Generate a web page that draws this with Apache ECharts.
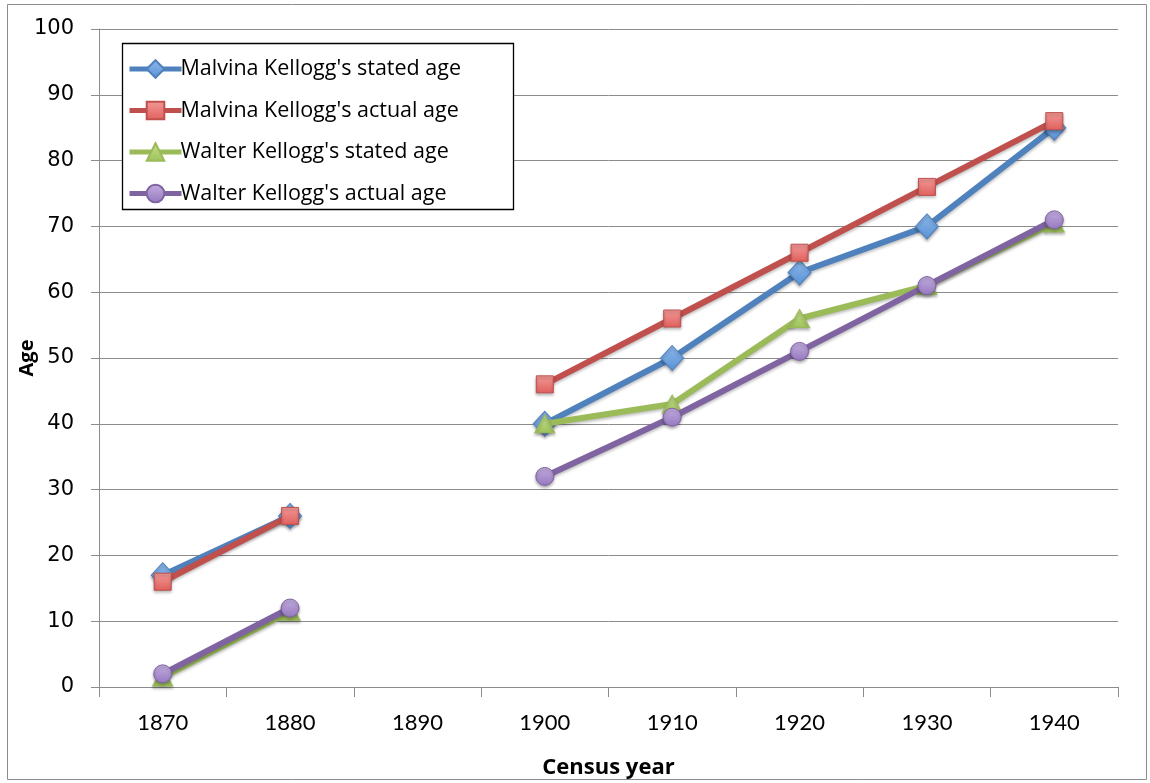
<!DOCTYPE html>
<html>
<head>
<meta charset="utf-8">
<script src="https://cdn.jsdelivr.net/npm/echarts@6/dist/echarts.min.js"></script>
<style>html,body{margin:0;padding:0;background:#fff}#c{width:1150px;height:783px}</style>
</head>
<body>
<div id="c"></div>
<script>
const years = ['1870','1880','1890','1900','1910','1920','1930','1940'];
const malvinaStated = [17, 26, null, 40, 50, 63, 70, 85];
const malvinaActual = [16, 26, null, 46, 56, 66, 76, 86];
const walterStated  = [1.5, 11.5, null, 40, 43, 56, 61, 70.5];
const walterActual  = [2, 12, null, 32, 41, 51, 61, 71];
const seriesNames = ["Malvina Kellogg's stated age", "Malvina Kellogg's actual age", "Walter Kellogg's stated age", "Walter Kellogg's actual age"];
const yTicks = { min: 0, max: 100, interval: 10 };

function grad(top, bottom) {
  return new echarts.graphic.LinearGradient(0, 0, 0, 1, [{offset: 0, color: top}, {offset: 1, color: bottom}]);
}
const defs = [
  { data: malvinaStated, line: '#4F81BD', sym: 'diamond', size: [23, 25], fill: grad('#8cb8ea', '#5a92d6'), border: '#4F81BD' },
  { data: malvinaActual, line: '#C0504D', sym: 'rect', size: 17, fill: grad('#f29a98', '#e0605d'), border: '#C0504D' },
  { data: walterStated, line: '#9BBB59', sym: 'triangle', size: [20, 18], fill: grad('#c4de8c', '#9fc35c'), border: '#9BBB59' },
  { data: walterActual, line: '#8064A2', sym: 'circle', size: 18, fill: grad('#c4aee0', '#9478bf'), border: '#8064A2' }
];

const chart = echarts.init(document.getElementById('c'), null, { renderer: 'canvas' });
chart.setOption({
  animation: false,
  backgroundColor: '#fff',
  grid: { left: 99, right: 32, top: 29, bottom: 96, containLabel: false, outerBoundsMode: 'none' },
  graphic: [
    { type: 'rect', z: 0, shape: { x: 7.5, y: 4.5, width: 1139, height: 775 }, style: { fill: 'none', stroke: '#8c8c8c', lineWidth: 1 } },
    { type: 'rect', z: 10, shape: { x: 122.5, y: 43.5, width: 391, height: 166 }, style: { fill: '#fff', stroke: '#000', lineWidth: 1.3 } }
  ],
  legend: {
    z: 11,
    orient: 'vertical',
    left: 127, top: 58,
    padding: 0,
    itemWidth: 52, itemHeight: 22,
    itemGap: 19.5,
    lineStyle: { width: 5 },
    textStyle: { fontFamily: 'Open Sans', fontSize: 21.5, lineHeight: 22, color: '#000', padding: [0, 0, 0, -6] },
    data: seriesNames
  },
  xAxis: {
    type: 'category',
    data: years,
    boundaryGap: true,
    axisLine: { lineStyle: { color: '#8c8c8c', width: 1 } },
    axisTick: { show: true, length: 10, alignWithLabel: false, lineStyle: { color: '#8c8c8c' } },
    axisLabel: { fontFamily: 'Lato', fontSize: 22, color: '#000', margin: 25 },
    name: 'Census year',
    nameLocation: 'middle',
    nameGap: 70,
    nameMoveOverlap: false,
    nameTextStyle: { fontFamily: 'Open Sans', fontSize: 22, fontWeight: 'bold', color: '#000' }
  },
  yAxis: {
    type: 'value',
    min: yTicks.min, max: yTicks.max, interval: yTicks.interval,
    axisLine: { show: true, lineStyle: { color: '#8c8c8c', width: 1 } },
    axisTick: { show: true, length: 8, inside: false, lineStyle: { color: '#8c8c8c' } },
    splitLine: { show: true, lineStyle: { color: '#8c8c8c', width: 1 } },
    axisLabel: { fontFamily: 'DejaVu Sans', fontSize: 21, color: '#000', margin: 25 },
    name: 'Age',
    nameLocation: 'middle',
    nameGap: 62,
    nameMoveOverlap: false,
    nameRotate: 90,
    nameTextStyle: { fontFamily: 'Open Sans', fontSize: 20, fontWeight: 'bold', color: '#000' }
  },
  series: defs.map((d, i) => ({
    name: seriesNames[i],
    type: 'line',
    data: d.data,
    connectNulls: false,
    symbol: d.sym,
    symbolSize: d.size,
    showAllSymbol: true,
    z: 2 + i,
    lineStyle: { color: d.line, width: 6, shadowColor: 'rgba(0,0,0,0.25)', shadowBlur: 3, shadowOffsetY: 2 },
    itemStyle: { color: d.fill, borderColor: d.border, borderWidth: 1, shadowColor: 'rgba(0,0,0,0.3)', shadowBlur: 3, shadowOffsetY: 2 },
    emphasis: { disabled: true }
  }))
});
</script>
</body>
</html>
